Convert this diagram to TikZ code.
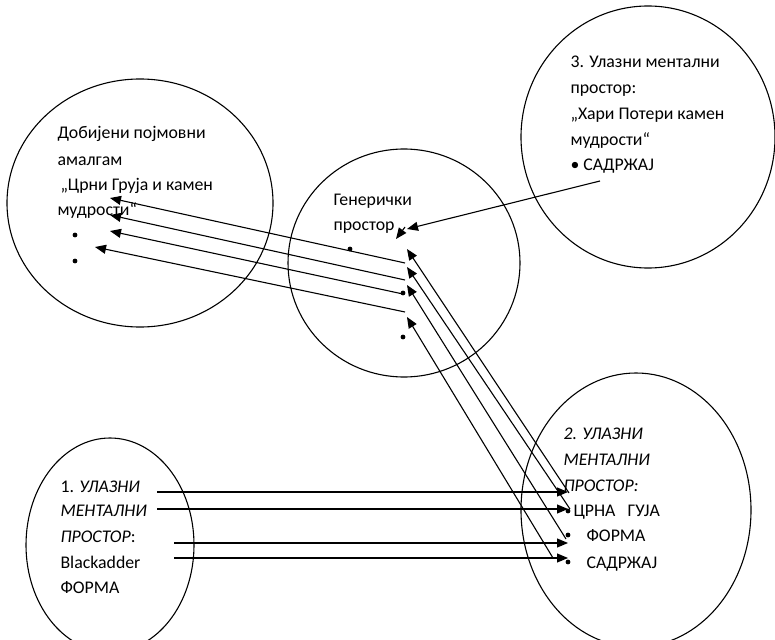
\documentclass[tikz,border=0pt]{standalone}
\usepackage{fontspec}
\setmainfont{Carlito}
\usetikzlibrary{arrows.meta,shapes.geometric}
\begin{document}
\begin{tikzpicture}[x=1pt,y=-1pt,line width=1.1pt,
  txt/.style={font=\fontsize{17.8}{21}\selectfont, inner sep=0pt, anchor=base west},
  arr/.style={-{Triangle[length=11pt,width=9pt]}},
  space/.style={draw, ellipse, inner sep=0pt, line width=1.1pt},
  gdot/.style={fill, circle, minimum size=4.8pt, inner sep=0pt}]
\useasboundingbox (0,0) rectangle (775,639);
% spaces
\node[space, minimum width=266pt, minimum height=248pt] (amalgam) at (140,203) {};
\node[space, minimum width=232pt, minimum height=228pt] (generic) at (404,263) {};
\node[space, minimum width=254pt, minimum height=262pt] (input3) at (648,137) {};
\node[space, minimum width=230pt, minimum height=274pt] (input2) at (636,510) {};
\node[space, minimum width=168pt, minimum height=214pt] (input1) at (110,545) {};
% amalgam text
\node[txt] (a1) at (57,139) {Добијени појмовни};
\node[txt] (a2) at (57,165) {амалгам};
\node[txt] (a3) at (60,190) {„Црни Груја и камен};
\node[txt] (a4) at (57,215) {мудрости“};
\node[gdot] (ad1) at (75,235) {};
\node[gdot] (ad2) at (75,261) {};
% generic text
\node[txt] (g1) at (333,205) {Генерички};
\node[txt] (g2) at (333,230) {простор};
\node[gdot] (gd1) at (350,249) {};
\node[gdot] (gd2) at (403,293) {};
\node[gdot] (gd3) at (403,337) {};
% input 3 text
\node[txt] (t1) at (570,68) {3. Улазни ментални};
\node[txt] (t2) at (570,94) {простор:};
\node[txt] (t3) at (570,120) {„Хари Потери камен};
\node[txt] (t4) at (570,146) {мудрости“};
\node[txt] (t5) at (570,170) {• САДРЖАЈ};
% input 2 text
\node[txt] (r1) at (563,439) {\itshape 2. УЛАЗНИ};
\node[txt] (r2) at (563,465) {\itshape МЕНТАЛНИ};
\node[txt] (r3) at (563,491) {\itshape ПРОСТОР:};
\node[txt] (r4) at (573,516) {ЦРНА\ \ \ ГУЈА};
\node[txt] (r5) at (586,541) {ФОРМА};
\node[txt] (r6) at (586,568) {САДРЖАЈ};
\node[gdot] (rd1) at (568,511) {};
\node[gdot] (rd2) at (568,535) {};
\node[gdot] (rd3) at (568,562) {};
% input 1 text
\node[txt] (l1) at (60,492) {1. \textit{УЛАЗНИ}};
\node[txt] (l2) at (60,516) {\textit{МЕНТАЛНИ}};
\node[txt] (l3) at (60,542) {\textit{ПРОСТОР}:};
\node[txt] (l4) at (60,568) {Blackadder};
\node[txt] (l5) at (60,593) {ФОРМА};
% coordinates
\coordinate (h1s) at (157,492); \coordinate (h1e) at (568,492);
\coordinate (h2s) at (157,509); \coordinate (h2e) at (568,509);
\coordinate (h3s) at (174,543); \coordinate (h3e) at (568,543);
\coordinate (h4s) at (174,558); \coordinate (h4e) at (568,558);
\coordinate (d1s) at (569,493); \coordinate (d1e) at (407,249);
\coordinate (d2s) at (570,509); \coordinate (d2e) at (407,267);
\coordinate (d3s) at (566,539); \coordinate (d3e) at (407,285);
\coordinate (d4s) at (553,558); \coordinate (d4e) at (407,317);
\coordinate (b1s) at (405,263); \coordinate (b1e) at (110,198);
\coordinate (b2s) at (405,280); \coordinate (b2e) at (110,215);
\coordinate (b3s) at (403,294); \coordinate (b3e) at (110,231);
\coordinate (b4s) at (405,312); \coordinate (b4e) at (95,247);
\coordinate (c1s) at (600,181); \coordinate (c1e) at (407,229);
\coordinate (c2s) at (405,227); \coordinate (c2e) at (396,239);
% connectors
\draw[arr] (h1s) -- (h1e);
\draw[arr] (h2s) -- (h2e);
\draw[arr] (h3s) -- (h3e);
\draw[arr] (h4s) -- (h4e);
\draw[arr] (d1s) -- (d1e);
\draw[arr] (d2s) -- (d2e);
\draw[arr] (d3s) -- (d3e);
\draw[arr] (d4s) -- (d4e);
\draw[arr] (b1s) -- (b1e);
\draw[arr] (b2s) -- (b2e);
\draw[arr] (b3s) -- (b3e);
\draw[arr] (b4s) -- (b4e);
\draw[arr] (c1s) -- (c1e);
\draw[arr] (c2s) -- (c2e);
\end{tikzpicture}
\end{document}
